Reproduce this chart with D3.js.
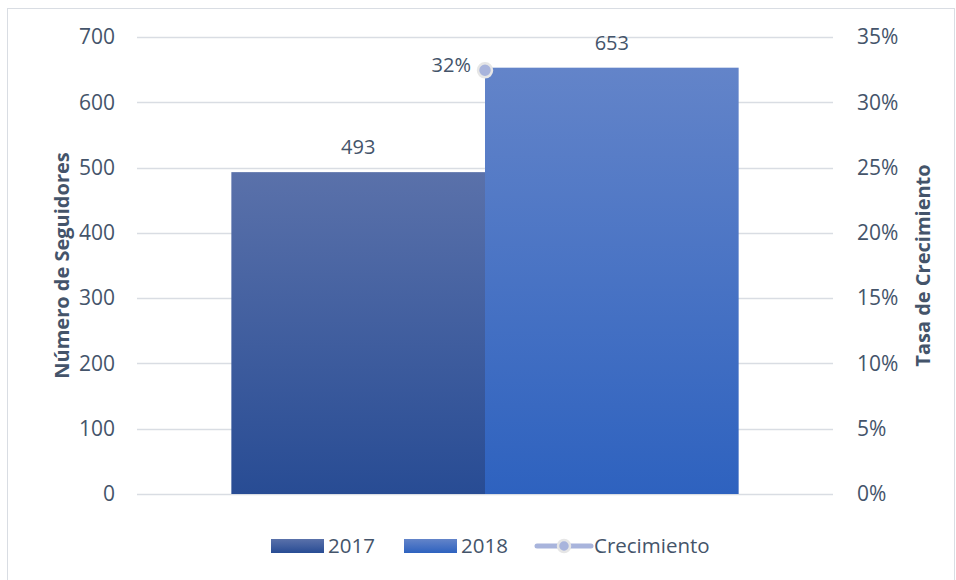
<!DOCTYPE html>
<html>
<head>
<meta charset="utf-8">
<script src="https://cdn.jsdelivr.net/npm/d3@7"></script>
<style>
  body { margin: 0; background: #fff; }
  text { font-family: "Open Sans", sans-serif; fill: #44546a; }
</style>
</head>
<body>
<svg width="956" height="580"></svg>
<script>
var years = ["2017", "2018"];
var followers = [493, 653];
var growth = [0.3245];        // 653/493 - 1, label shown as 32%
var growthLabels = ["32%"];
var leftTicks = [0, 100, 200, 300, 400, 500, 600, 700];
var rightTicks = [0, 0.05, 0.10, 0.15, 0.20, 0.25, 0.30, 0.35];

var svg = d3.select("svg");
var margin = {top: 37, right: 123, bottom: 86, left: 137};
var width = 956 - margin.left - margin.right,
    height = 580 - margin.top - margin.bottom;

// outer frame
svg.append("rect")
    .attr("x", 7.5).attr("y", 8.5)
    .attr("width", 947).attr("height", 580)
    .attr("fill", "none").attr("stroke", "#d9dde3");

var defs = svg.append("defs");
var grads = [["#5a71aa", "#284c94"], ["#6384c9", "#2e62bf"]];
grads.forEach(function(c, i) {
    var g = defs.append("linearGradient").attr("id", "g" + i)
        .attr("x1", 0).attr("y1", 0).attr("x2", 0).attr("y2", 1);
    g.append("stop").attr("offset", "0%").attr("stop-color", c[0]);
    g.append("stop").attr("offset", "100%").attr("stop-color", c[1]);
});

var g = svg.append("g").attr("transform", "translate(" + margin.left + "," + margin.top + ")");

var y = d3.scaleLinear().domain([0, 700]).range([height, 0]);
var y2 = d3.scaleLinear().domain([0, 0.35]).range([height, 0]);
var x0 = d3.scaleBand().domain(["Seguidores"]).range([0, width]).paddingInner(0).paddingOuter(0.186);
var x1 = d3.scaleBand().domain(years).range([0, x0.bandwidth()]);

// gridlines
g.selectAll(".grid").data(leftTicks).enter().append("line")
    .attr("x1", 0).attr("x2", width)
    .attr("y1", function(d) { return Math.round(y(d)) + 0.5; })
    .attr("y2", function(d) { return Math.round(y(d)) + 0.5; })
    .attr("stroke", "#d9dde3").attr("stroke-width", 1.3);

// left axis
var leftAxis = g.append("g").call(d3.axisLeft(y).tickValues(leftTicks).tickSize(0).tickPadding(22));
leftAxis.select(".domain").remove();
leftAxis.selectAll("text").style("font-size", "21px").attr("fill", "#44546a");

// right axis
var rightAxis = g.append("g").attr("transform", "translate(" + width + ",0)")
    .call(d3.axisRight(y2).tickValues(rightTicks).tickSize(0).tickPadding(24).tickFormat(d3.format(".0%")));
rightAxis.select(".domain").remove();
rightAxis.selectAll("text").style("font-size", "21px").attr("fill", "#44546a");

// bars
var bx = x0("Seguidores");
g.selectAll(".bar").data(followers).enter().append("rect")
    .attr("x", function(d, i) { return bx + x1(years[i]); })
    .attr("y", function(d) { return y(d); })
    .attr("width", x1.bandwidth())
    .attr("height", function(d) { return height - y(d); })
    .attr("fill", function(d, i) { return "url(#g" + i + ")"; });

g.selectAll(".blabel").data(followers).enter().append("text")
    .attr("x", function(d, i) { return bx + x1(years[i]) + x1.bandwidth() / 2; })
    .attr("y", function(d) { return y(d) - 18; })
    .attr("text-anchor", "middle")
    .style("font-size", "20px")
    .text(function(d) { return d; });

// growth point
var px = bx + x0.bandwidth() / 2;
g.selectAll(".pt").data(growth).enter().append("circle")
    .attr("cx", px).attr("cy", function(d) { return y2(d); })
    .attr("r", 7).attr("fill", "#a8b4dc").attr("stroke", "#e6e6e6").attr("stroke-width", 2.5);
g.selectAll(".plabel").data(growth).enter().append("text")
    .attr("x", px - 14).attr("y", function(d) { return y2(d) + 2; })
    .attr("text-anchor", "end")
    .style("font-size", "20px")
    .text(function(d, i) { return growthLabels[i]; });

// axis titles
svg.append("text")
    .attr("transform", "translate(69," + (margin.top + height / 2) + ") rotate(-90)")
    .attr("text-anchor", "middle")
    .style("font-size", "20px").style("font-weight", "bold")
    .text("Número de Seguidores");
svg.append("text")
    .attr("transform", "translate(930," + (margin.top + height / 2) + ") rotate(-90)")
    .attr("text-anchor", "middle")
    .style("font-size", "20px").style("font-weight", "bold")
    .text("Tasa de Crecimiento");

// legend
var leg = svg.append("g").attr("transform", "translate(271,546)");
leg.append("rect").attr("x", 0).attr("y", -7).attr("width", 53).attr("height", 14).attr("fill", "url(#g0)");
leg.append("text").attr("x", 57).attr("y", 7).style("font-size", "20.5px").text(years[0]);
leg.append("rect").attr("x", 133).attr("y", -7).attr("width", 53).attr("height", 14).attr("fill", "url(#g1)");
leg.append("text").attr("x", 190).attr("y", 7).style("font-size", "20.5px").text(years[1]);
leg.append("line").attr("x1", 266).attr("x2", 320).attr("y1", 0).attr("y2", 0)
    .attr("stroke", "#a8b4dc").attr("stroke-width", 5).attr("stroke-linecap", "round");
leg.append("circle").attr("cx", 293).attr("cy", 0).attr("r", 6)
    .attr("fill", "#a8b4dc").attr("stroke", "#e6e6e6").attr("stroke-width", 2.5);
leg.append("text").attr("x", 323).attr("y", 7).style("font-size", "20.5px").text("Crecimiento");
</script>
</body>
</html>
